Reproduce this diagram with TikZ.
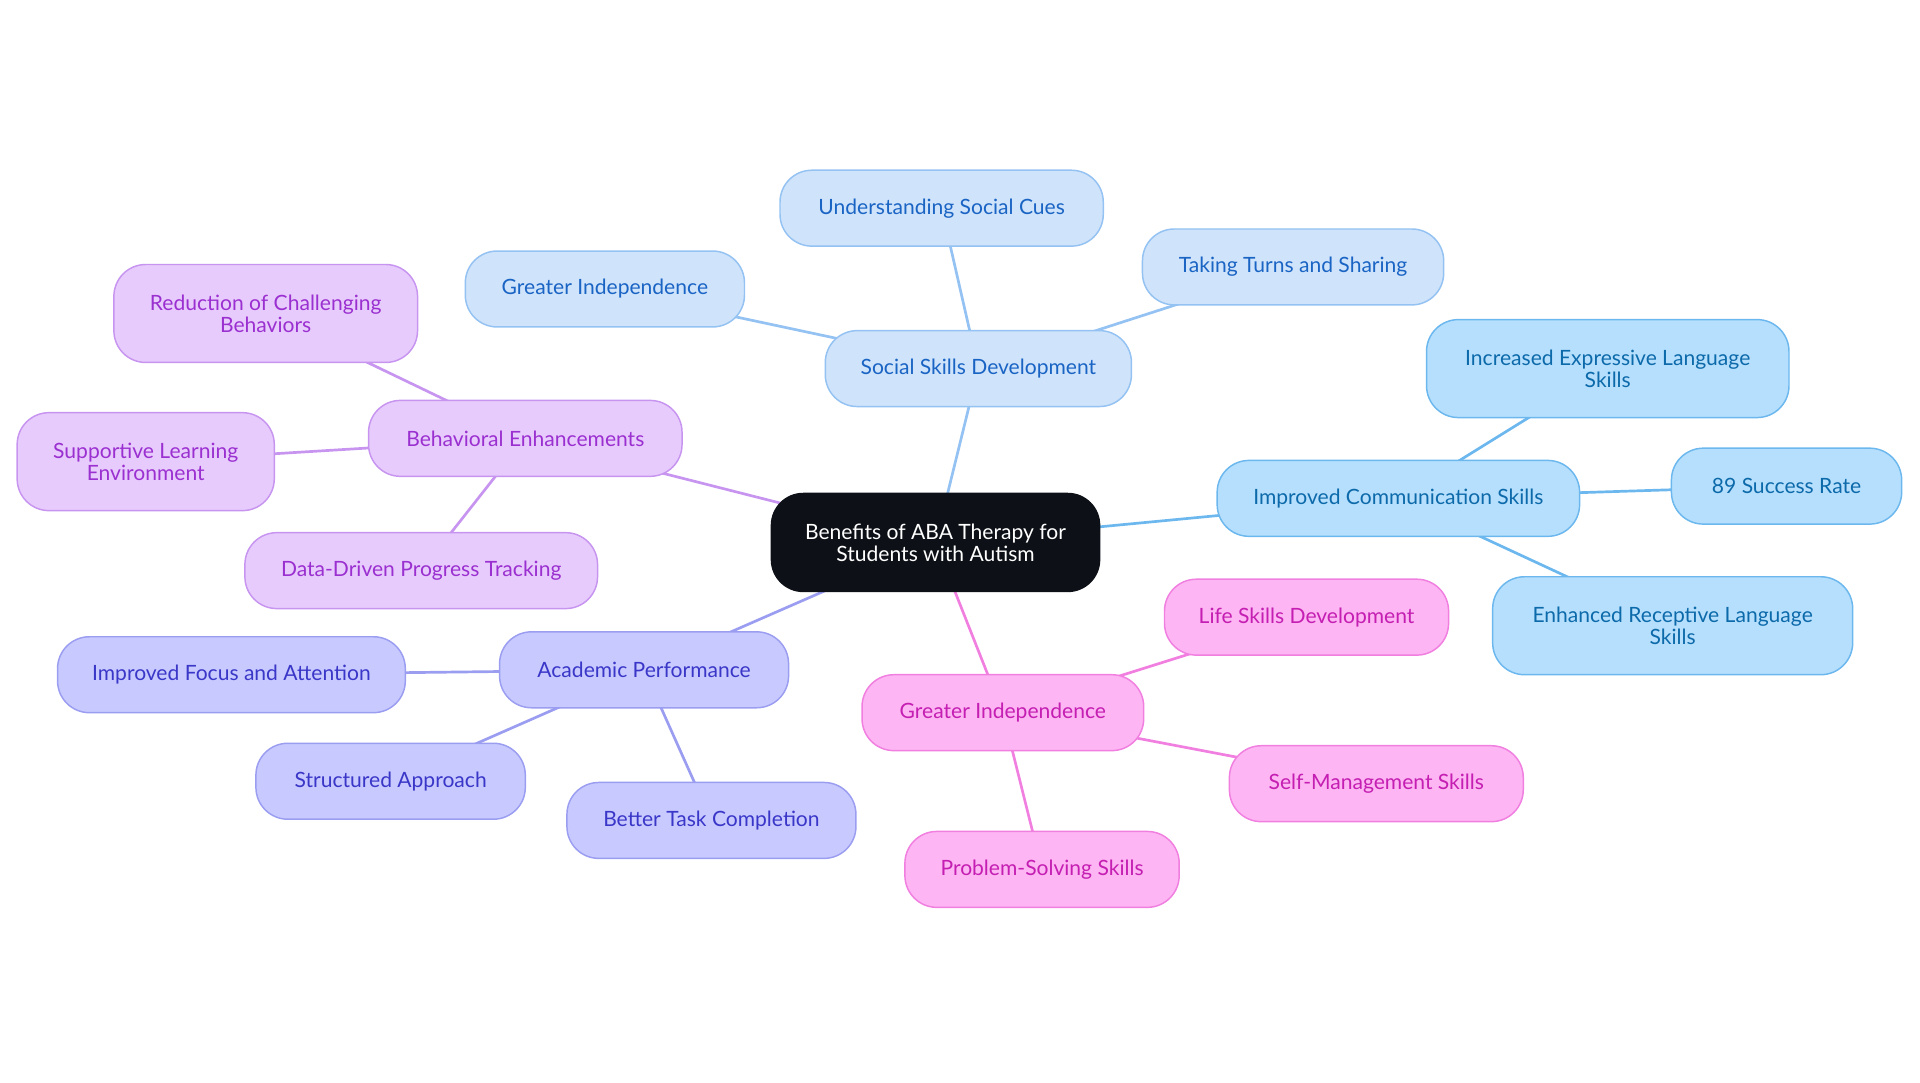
\documentclass[tikz,border=0pt]{standalone}
\usepackage{fontspec}
\setmainfont{Lato}
\usetikzlibrary{backgrounds}
\definecolor{cfill}{HTML}{0D1117}
\definecolor{sfill}{HTML}{CFE3FB}\definecolor{sdraw}{HTML}{94C2F2}\definecolor{stext}{HTML}{1A64C4}
\definecolor{cofill}{HTML}{B5DFFD}\definecolor{codraw}{HTML}{6CB8EE}\definecolor{cotext}{HTML}{0D6AAA}
\definecolor{pfill}{HTML}{FDB5F3}\definecolor{pdraw}{HTML}{F07FE0}\definecolor{ptext}{HTML}{C41EB2}
\definecolor{afill}{HTML}{C8CAFF}\definecolor{adraw}{HTML}{9A9DF0}\definecolor{atext}{HTML}{3A37C8}
\definecolor{bfill}{HTML}{E8CBFD}\definecolor{bdraw}{HTML}{C795F0}\definecolor{btext}{HTML}{9B30D0}
\tikzset{
 box/.style={rounded corners=13pt,minimum height=31pt,align=center,font=\fontsize{8.6}{9}\selectfont,line width=0.6pt,inner sep=0pt},
 soc/.style={box,fill=sfill,draw=sdraw,text=stext},
 com/.style={box,fill=cofill,draw=codraw,text=cotext},
 pin/.style={box,fill=pfill,draw=pdraw,text=ptext},
 aca/.style={box,fill=afill,draw=adraw,text=atext},
 beh/.style={box,fill=bfill,draw=bdraw,text=btext},
 tall/.style={minimum height=40pt},
 ed/.style={line width=1.1pt},
}
\begin{document}
\begin{tikzpicture}[x=0.5pt,y=-0.5pt]
\useasboundingbox (0,0) rectangle (1568,884);
\node[box,fill=cfill,draw=cfill,text=white,minimum width=134pt,minimum height=40pt] (c) at (764,443) {Benefits of ABA Therapy for\\Students with Autism};
\node[soc,minimum width=125pt] (s) at (799,301) {Social Skills Development};
\node[soc,minimum width=132pt] (s1) at (769,170) {Understanding Social Cues};
\node[soc,minimum width=123pt] (s2) at (1056,218) {Taking Turns and Sharing};
\node[soc,minimum width=114pt] (s3) at (494,236) {Greater Independence};
\node[com,minimum width=148pt] (m) at (1142,407) {Improved Communication Skills};
\node[com,tall,minimum width=148pt] (m1) at (1313,301) {Increased Expressive Language\\Skills};
\node[com,minimum width=94pt] (m2) at (1459,397) {89 Success Rate};
\node[com,tall,minimum width=147pt] (m3) at (1366,511) {Enhanced Receptive Language\\Skills};
\node[pin,minimum width=115pt] (g) at (819,582) {Greater Independence};
\node[pin,minimum width=116pt] (g1) at (1067,504) {Life Skills Development};
\node[pin,minimum width=120pt] (g2) at (1124,640) {Self-Management Skills};
\node[pin,minimum width=112pt] (g3) at (851,710) {Problem-Solving Skills};
\node[aca,minimum width=118pt] (a) at (526,547) {Academic Performance};
\node[aca,minimum width=142pt] (a1) at (189,551) {Improved Focus and Attention};
\node[aca,minimum width=110pt] (a2) at (319,638) {Structured Approach};
\node[aca,minimum width=118pt] (a3) at (581,670) {Better Task Completion};
\node[beh,minimum width=128pt] (b) at (429,358) {Behavioral Enhancements};
\node[beh,tall,minimum width=124pt] (b1) at (217,256) {Reduction of Challenging\\Behaviors};
\node[beh,tall,minimum width=105pt] (b2) at (119,377) {Supportive Learning\\Environment};
\node[beh,minimum width=144pt] (b3) at (344,466) {Data-Driven Progress Tracking};
\begin{scope}[on background layer]
\draw[ed,sdraw] (c.center)--(s.center) (s.center)--(s1.center) (s.center)--(s2.center) (s.center)--(s3.center);
\draw[ed,codraw] (c.center)--(m.center) (m.center)--(m1.center) (m.center)--(m2.center) (m.center)--(m3.center);
\draw[ed,pdraw] (c.center)--(g.center) (g.center)--(g1.center) (g.center)--(g2.center) (g.center)--(g3.center);
\draw[ed,adraw] (c.center)--(a.center) (a.center)--(a1.center) (a.center)--(a2.center) (a.center)--(a3.center);
\draw[ed,bdraw] (c.center)--(b.center) (b.center)--(b1.center) (b.center)--(b2.center) (b.center)--(b3.center);
\end{scope}
\end{tikzpicture}
\end{document}
